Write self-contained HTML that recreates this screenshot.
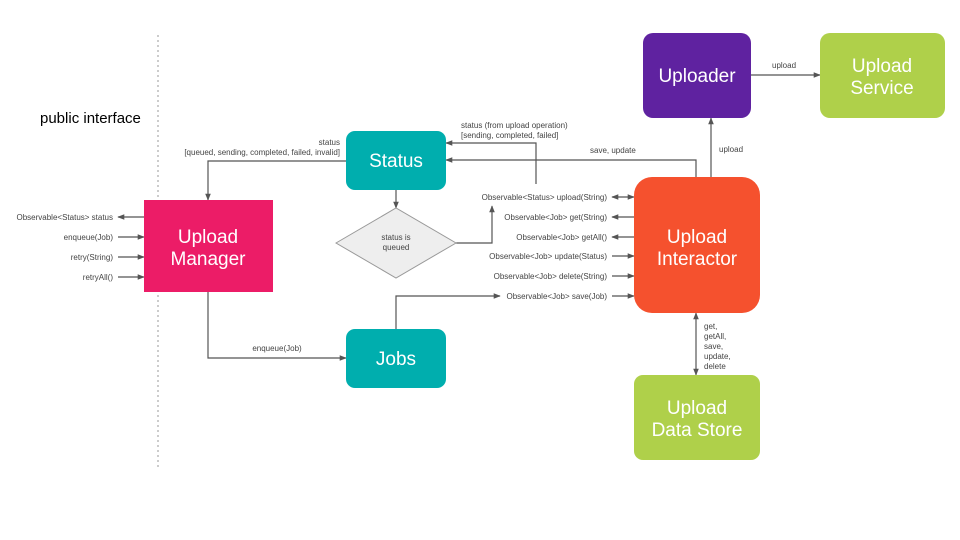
<!DOCTYPE html>
<html><head><meta charset="utf-8"><style>
html,body{margin:0;padding:0;background:#fff}
svg{display:block}
text{font-family:"Liberation Sans",Arial,sans-serif}
.s{font-size:8px;fill:#444}
.b{font-size:19px;fill:#fff}
</style></head><body>
<svg width="960" height="540" viewBox="0 0 960 540" xmlns="http://www.w3.org/2000/svg">
<defs>
<marker id="a" viewBox="0 0 10 10" refX="9" refY="5" markerWidth="7" markerHeight="7" orient="auto-start-reverse" markerUnits="userSpaceOnUse"><path d="M0,1 L10,5 L0,9 z" fill="#555"/></marker>
</defs>
<line x1="158" y1="35" x2="158" y2="470" stroke="#999" stroke-dasharray="2,3"/>
<text x="40" y="123" font-size="15" fill="#000">public interface</text>

<g stroke="#555" stroke-width="1.2" fill="none">
<polyline points="346,161 208,161 208,200" marker-end="url(#a)"/>
<line x1="396" y1="190" x2="396" y2="208" marker-end="url(#a)"/>
<polyline points="456,243 492,243 492,206" marker-end="url(#a)"/>
<polyline points="536,184 536,143 446,143" marker-end="url(#a)"/>
<polyline points="696,177 696,160 446,160" marker-end="url(#a)"/>
<line x1="711" y1="177" x2="711" y2="118" marker-end="url(#a)"/>
<line x1="751" y1="75" x2="820" y2="75" marker-end="url(#a)"/>
<line x1="612" y1="197" x2="634" y2="197" marker-start="url(#a)" marker-end="url(#a)"/>
<line x1="634" y1="217" x2="612" y2="217" marker-end="url(#a)"/>
<line x1="634" y1="237" x2="612" y2="237" marker-end="url(#a)"/>
<line x1="612" y1="256" x2="634" y2="256" marker-end="url(#a)"/>
<line x1="612" y1="276" x2="634" y2="276" marker-end="url(#a)"/>
<line x1="612" y1="296" x2="634" y2="296" marker-end="url(#a)"/>
<polyline points="396,329 396,296 500,296" marker-end="url(#a)"/>
<polyline points="208,292 208,358 346,358" marker-end="url(#a)"/>
<line x1="144" y1="217" x2="118" y2="217" marker-end="url(#a)"/>
<line x1="118" y1="237" x2="144" y2="237" marker-end="url(#a)"/>
<line x1="118" y1="257" x2="144" y2="257" marker-end="url(#a)"/>
<line x1="118" y1="277" x2="144" y2="277" marker-end="url(#a)"/>
<line x1="696" y1="313" x2="696" y2="375" marker-start="url(#a)" marker-end="url(#a)"/>
</g>

<rect x="643" y="33" width="108" height="85" rx="10" fill="#5f22a0"/>
<text class="b" x="697" y="82" text-anchor="middle">Uploader</text>
<rect x="820" y="33" width="125" height="85" rx="10" fill="#afd04a"/>
<text class="b" x="882" y="72" text-anchor="middle">Upload</text>
<text class="b" x="882" y="94" text-anchor="middle">Service</text>

<rect x="346" y="131" width="100" height="59" rx="9" fill="#00aeae"/>
<text class="b" x="396" y="167" text-anchor="middle" font-size="18">Status</text>

<rect x="144" y="200" width="129" height="92" fill="#ec1c67"/>
<text class="b" x="208" y="243" text-anchor="middle">Upload</text>
<text class="b" x="208" y="265" text-anchor="middle">Manager</text>

<polygon points="336,243 396,208 456,243 396,278" fill="#eee" stroke="#999"/>
<text class="s" x="396" y="240" text-anchor="middle">status is</text>
<text class="s" x="396" y="250" text-anchor="middle">queued</text>

<rect x="346" y="329" width="100" height="59" rx="9" fill="#00aeae"/>
<text class="b" x="396" y="365" text-anchor="middle" font-size="18">Jobs</text>

<rect x="634" y="177" width="126" height="136" rx="18" fill="#f5512e"/>
<text class="b" x="697" y="243" text-anchor="middle">Upload</text>
<text class="b" x="697" y="265" text-anchor="middle">Interactor</text>

<rect x="634" y="375" width="126" height="85" rx="9" fill="#afd04a"/>
<text class="b" x="697" y="414" text-anchor="middle">Upload</text>
<text class="b" x="697" y="436" text-anchor="middle">Data Store</text>

<text class="s" x="340" y="145" text-anchor="end">status</text>
<text class="s" x="340" y="155" text-anchor="end">[queued, sending, completed, failed, invalid]</text>
<text class="s" x="461" y="128">status (from upload operation)</text>
<text class="s" x="461" y="138">[sending, completed, failed]</text>
<text class="s" x="590" y="153">save, update</text>
<text class="s" x="719" y="152">upload</text>
<text class="s" x="772" y="68">upload</text>
<text class="s" x="607" y="200" text-anchor="end">Observable&lt;Status&gt; upload(String)</text>
<text class="s" x="607" y="220" text-anchor="end">Observable&lt;Job&gt; get(String)</text>
<text class="s" x="607" y="240" text-anchor="end">Observable&lt;Job&gt; getAll()</text>
<text class="s" x="607" y="259" text-anchor="end">Observable&lt;Job&gt; update(Status)</text>
<text class="s" x="607" y="279" text-anchor="end">Observable&lt;Job&gt; delete(String)</text>
<text class="s" x="607" y="299" text-anchor="end">Observable&lt;Job&gt; save(Job)</text>
<text class="s" x="277" y="351" text-anchor="middle">enqueue(Job)</text>
<text class="s" x="113" y="220" text-anchor="end">Observable&lt;Status&gt; status</text>
<text class="s" x="113" y="240" text-anchor="end">enqueue(Job)</text>
<text class="s" x="113" y="260" text-anchor="end">retry(String)</text>
<text class="s" x="113" y="280" text-anchor="end">retryAll()</text>
<text class="s" x="704" y="329">get,</text>
<text class="s" x="704" y="339">getAll,</text>
<text class="s" x="704" y="349">save,</text>
<text class="s" x="704" y="359">update,</text>
<text class="s" x="704" y="369">delete</text>
</svg>
</body></html>
